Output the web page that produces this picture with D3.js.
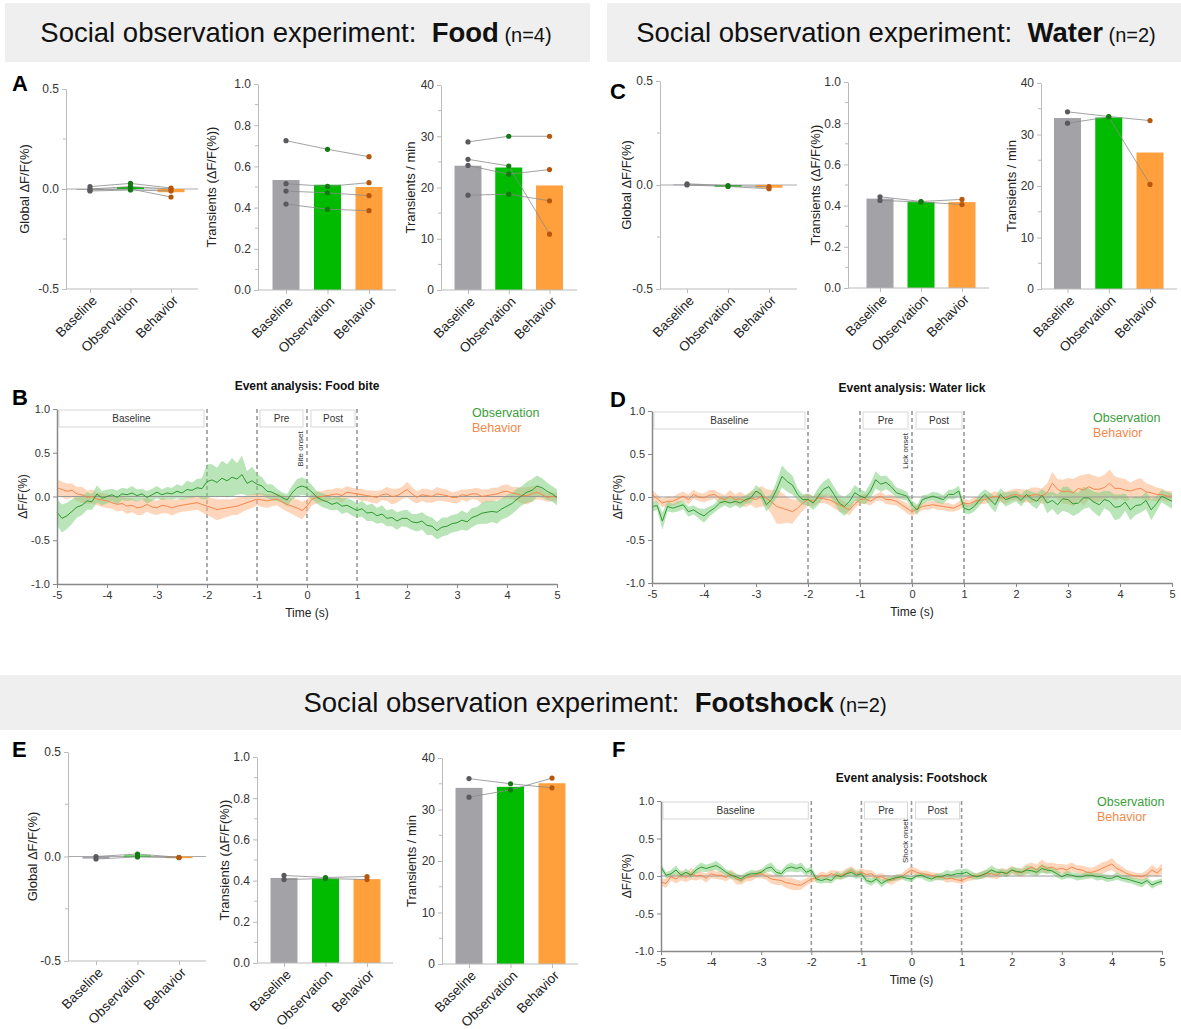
<!DOCTYPE html>
<html>
<head>
<meta charset="utf-8">
<script src="https://cdn.jsdelivr.net/npm/d3@7"></script>
<style>
  body { margin: 0; background: #fff; }
  text { font-family: "Liberation Sans", Arial, sans-serif; }
</style>
</head>
<body>
<svg id="chart"></svg>
<script>
// ---- summary data (rows = animals, columns = groups) ----
const groups = ["Baseline", "Observation", "Behavior"];

const foodGlobalBars = [-0.005, 0.01, -0.016];
const foodGlobalSubj = [[0.012, 0.028, 0.005], [0.0, 0.012, 0.0], [-0.005, 0.0, -0.04], [-0.01, -0.005, -0.01]];
const foodAmpBars = [0.534, 0.511, 0.50];
const foodAmpSubj = [[0.725, 0.683, 0.647], [0.516, 0.503, 0.521], [0.48, 0.472, 0.458], [0.417, 0.392, 0.385]];
const foodRateBars = [24.25, 23.9, 20.4];
const foodRateSubj = [[28.9, 30.0, 30.0], [25.5, 24.2, 10.9], [24.3, 22.6, 23.5], [18.5, 18.7, 17.4]];

const waterGlobalBars = [0.003, -0.008, -0.013];
const waterGlobalSubj = [[0.006, -0.003, -0.008], [0.0, -0.007, -0.018]];
const waterAmpBars = [0.434, 0.417, 0.417];
const waterAmpSubj = [[0.443, 0.42, 0.43], [0.425, 0.418, 0.405]];
const waterRateBars = [33.2, 33.3, 26.5];
const waterRateSubj = [[34.4, 33.5, 32.7], [32.2, 33.4, 20.3]];

const shockGlobalBars = [-0.01, 0.005, -0.008];
const shockGlobalSubj = [[0.0, 0.012, -0.004], [-0.012, -0.002, -0.006]];
const shockAmpBars = [0.413, 0.41, 0.407];
const shockAmpSubj = [[0.425, 0.415, 0.42], [0.405, 0.41, 0.405]];
const shockRateBars = [34.2, 34.4, 35.1];
const shockRateSubj = [[36.0, 35.0, 34.2], [32.4, 33.8, 36.1]];

const globalTicks = [-0.5, 0, 0.5];
const ampTicks = [0, 0.2, 0.4, 0.6, 0.8, 1.0];
const rateTicks = [0, 10, 20, 30, 40];

// ---- event traces, -5 s .. 5 s every 0.1 s ----
const timeSec = d3.range(101).map(i => -5 + i / 10);
const timeTicks = [-5, -4, -3, -2, -1, 0, 1, 2, 3, 4, 5];
const traceTicks = [-1, -0.5, 0, 0.5, 1];

const biteObs = [-0.18,-0.25,-0.22,-0.17,-0.12,-0.10,-0.05,-0.06,0.03,-0.02,
  0.00,0.02,-0.01,0.03,0.02,0.04,0.01,0.03,-0.01,0.02,
  0.05,0.02,0.04,0.03,0.06,0.04,0.08,0.07,0.10,0.09,
  0.17,0.19,0.16,0.21,0.18,0.22,0.20,0.25,0.15,0.18,
  0.14,0.12,0.06,0.05,0.02,-0.01,-0.04,0.04,0.10,0.12,
  0.10,0.05,-0.01,-0.04,-0.06,-0.09,-0.07,-0.11,-0.10,-0.13,
  -0.16,-0.14,-0.19,-0.18,-0.22,-0.20,-0.25,-0.24,-0.28,-0.25,
  -0.25,-0.29,-0.30,-0.28,-0.33,-0.34,-0.39,-0.35,-0.34,-0.31,
  -0.30,-0.27,-0.29,-0.24,-0.22,-0.19,-0.18,-0.17,-0.18,-0.14,
  -0.11,-0.08,-0.03,0.01,0.05,0.07,0.12,0.10,0.06,0.03,-0.01];
const biteObsSem = [0.15,0.16,0.15,0.14,0.12,0.11,0.10,0.09,0.10,0.08,
  0.08,0.07,0.08,0.07,0.07,0.08,0.07,0.06,0.07,0.07,
  0.07,0.06,0.07,0.07,0.08,0.08,0.10,0.09,0.10,0.12,
  0.20,0.18,0.17,0.20,0.19,0.22,0.18,0.22,0.14,0.16,
  0.12,0.10,0.08,0.09,0.07,0.06,0.07,0.08,0.10,0.10,
  0.09,0.08,0.07,0.08,0.08,0.07,0.08,0.09,0.08,0.09,
  0.08,0.09,0.09,0.10,0.09,0.10,0.09,0.10,0.10,0.09,
  0.10,0.09,0.10,0.10,0.11,0.10,0.10,0.11,0.10,0.10,
  0.10,0.11,0.10,0.11,0.10,0.12,0.13,0.12,0.13,0.12,
  0.13,0.12,0.12,0.11,0.12,0.13,0.12,0.11,0.10,0.09,0.09];
const biteBeh = [0.10,0.08,0.06,0.07,0.03,0.02,-0.01,0.00,-0.03,-0.04,
  -0.05,-0.07,-0.09,-0.08,-0.11,-0.10,-0.13,-0.12,-0.09,-0.12,
  -0.13,-0.10,-0.11,-0.13,-0.11,-0.10,-0.09,-0.08,-0.07,-0.09,
  -0.11,-0.13,-0.15,-0.14,-0.13,-0.12,-0.11,-0.09,-0.07,-0.05,
  -0.03,-0.04,-0.05,-0.04,-0.03,-0.06,-0.09,-0.11,-0.13,-0.16,
  -0.11,-0.03,-0.01,0.00,0.01,0.02,0.03,0.01,0.05,0.04,
  0.03,0.02,0.01,0.00,-0.01,0.02,0.03,0.00,0.01,0.04,
  0.08,0.03,-0.01,0.02,0.01,0.00,0.03,0.02,0.01,-0.01,
  -0.01,0.02,0.01,0.03,0.03,0.00,0.01,0.02,0.03,0.05,
  0.06,0.04,0.03,0.01,0.01,0.03,0.05,0.02,-0.01,0.00,-0.01];
const biteBehSem = [0.10,0.09,0.09,0.08,0.08,0.09,0.08,0.08,0.07,0.08,
  0.08,0.07,0.08,0.08,0.09,0.08,0.08,0.09,0.08,0.08,
  0.08,0.09,0.08,0.09,0.08,0.07,0.08,0.08,0.08,0.09,
  0.10,0.11,0.12,0.11,0.10,0.09,0.10,0.09,0.08,0.08,
  0.07,0.08,0.08,0.07,0.07,0.08,0.08,0.09,0.10,0.10,
  0.08,0.07,0.07,0.06,0.07,0.06,0.07,0.08,0.07,0.06,
  0.06,0.07,0.06,0.07,0.07,0.06,0.08,0.09,0.08,0.07,
  0.09,0.08,0.07,0.07,0.08,0.07,0.08,0.07,0.07,0.06,
  0.07,0.06,0.07,0.06,0.07,0.08,0.07,0.08,0.07,0.08,
  0.08,0.07,0.08,0.09,0.10,0.09,0.08,0.06,0.05,0.05,0.05];

const lickObs = [-0.11,-0.10,-0.28,-0.11,-0.13,-0.11,-0.09,-0.17,-0.15,-0.19,
  -0.22,-0.17,-0.13,-0.07,-0.05,-0.07,-0.05,-0.07,-0.03,-0.01,
  0.07,0.03,-0.09,-0.03,0.09,0.24,0.18,0.14,0.03,-0.03,
  -0.03,-0.07,0.01,0.09,0.12,0.03,-0.07,-0.11,-0.05,0.05,
  0.01,-0.01,0.07,0.20,0.15,0.17,0.12,0.05,0.03,0.01,
  -0.09,-0.15,-0.03,-0.01,0.01,-0.01,-0.03,0.03,0.03,0.07,
  -0.13,-0.15,-0.11,-0.03,0.03,-0.03,-0.09,0.03,-0.03,-0.01,
  0.01,-0.04,0.03,-0.02,-0.05,0.02,-0.07,-0.04,-0.09,-0.02,
  -0.03,-0.08,-0.07,-0.01,-0.01,-0.06,-0.09,-0.03,-0.05,-0.12,
  -0.11,-0.06,-0.15,-0.10,-0.09,-0.04,-0.15,-0.08,0.01,-0.02,-0.05];
const lickObsSem = [0.06,0.05,0.10,0.06,0.05,0.06,0.05,0.06,0.05,0.06,
  0.08,0.06,0.05,0.06,0.05,0.06,0.05,0.06,0.05,0.06,
  0.07,0.06,0.08,0.07,0.10,0.13,0.12,0.11,0.07,0.06,
  0.07,0.08,0.10,0.09,0.10,0.09,0.10,0.11,0.10,0.09,
  0.08,0.07,0.09,0.10,0.09,0.08,0.07,0.06,0.06,0.05,
  0.05,0.06,0.05,0.04,0.05,0.06,0.05,0.05,0.06,0.06,
  0.06,0.05,0.06,0.07,0.06,0.08,0.09,0.07,0.08,0.07,
  0.06,0.07,0.06,0.08,0.09,0.07,0.12,0.10,0.12,0.14,
  0.15,0.14,0.12,0.13,0.11,0.12,0.14,0.10,0.12,0.15,
  0.14,0.10,0.12,0.11,0.09,0.10,0.12,0.09,0.07,0.08,0.09];
const lickBeh = [0.03,-0.02,-0.07,-0.05,-0.05,-0.02,0.01,-0.03,0.03,0.00,
  -0.01,0.02,0.03,-0.01,-0.03,0.01,-0.03,-0.02,-0.05,-0.01,
  -0.03,0.01,-0.01,-0.06,-0.11,-0.13,-0.15,-0.17,-0.13,-0.07,
  -0.03,-0.05,-0.01,-0.02,-0.03,-0.06,-0.09,-0.12,-0.15,-0.08,
  -0.03,-0.02,-0.05,-0.01,0.01,-0.03,-0.03,-0.05,-0.09,-0.13,
  -0.17,-0.14,-0.11,-0.10,-0.09,-0.10,-0.11,-0.12,-0.13,-0.10,
  -0.07,-0.08,-0.05,-0.04,-0.03,-0.01,0.01,-0.01,-0.01,0.02,
  0.03,0.01,0.01,0.02,0.03,0.01,0.05,0.16,0.09,0.06,
  0.07,0.05,0.10,0.08,0.12,0.09,0.09,0.11,0.16,0.10,
  0.10,0.08,0.07,0.09,0.10,0.06,0.05,0.03,0.03,0.01,0.01];
const lickBehSem = [0.06,0.05,0.05,0.06,0.05,0.06,0.05,0.06,0.05,0.05,
  0.05,0.06,0.05,0.06,0.05,0.07,0.06,0.08,0.07,0.08,
  0.10,0.12,0.10,0.14,0.20,0.18,0.15,0.14,0.10,0.09,
  0.07,0.06,0.06,0.05,0.06,0.07,0.08,0.07,0.06,0.05,
  0.05,0.06,0.05,0.04,0.05,0.05,0.06,0.05,0.05,0.06,
  0.05,0.05,0.04,0.05,0.04,0.05,0.04,0.05,0.04,0.05,
  0.05,0.04,0.05,0.04,0.05,0.05,0.06,0.05,0.07,0.06,
  0.07,0.08,0.07,0.09,0.08,0.09,0.11,0.13,0.12,0.14,
  0.15,0.16,0.14,0.18,0.15,0.16,0.14,0.15,0.16,0.14,
  0.12,0.13,0.10,0.11,0.12,0.10,0.09,0.08,0.07,0.06,0.06];

const shockObs = [0.12,0.01,0.03,0.08,0.01,0.05,0.01,0.08,0.12,0.10,
  0.12,0.14,0.10,0.05,0.01,-0.01,-0.04,0.01,0.03,0.03,
  0.05,0.10,0.12,0.05,0.03,0.10,0.12,0.10,0.12,0.05,
  0.08,-0.04,-0.06,-0.04,-0.06,0.01,-0.01,0.03,0.05,0.01,
  0.03,-0.06,-0.08,-0.04,-0.10,-0.06,-0.04,-0.02,-0.01,-0.03,
  -0.04,0.00,0.01,-0.02,-0.04,-0.01,-0.01,0.02,0.01,0.03,
  0.03,0.05,0.01,-0.01,0.01,0.04,0.08,0.05,0.05,0.03,
  0.08,0.06,0.05,0.08,0.07,0.05,0.10,0.08,0.07,0.03,
  -0.01,0.02,0.01,-0.01,-0.01,0.01,0.01,-0.01,-0.01,-0.03,
  -0.03,0.00,-0.03,-0.04,-0.06,-0.08,-0.10,-0.06,-0.12,-0.09,-0.07];
const shockObsSem = [0.05,0.04,0.05,0.06,0.04,0.05,0.04,0.05,0.06,0.05,
  0.05,0.06,0.05,0.04,0.05,0.04,0.05,0.04,0.05,0.04,
  0.04,0.05,0.06,0.05,0.04,0.05,0.06,0.05,0.06,0.05,
  0.04,0.05,0.04,0.05,0.04,0.05,0.04,0.05,0.06,0.05,
  0.05,0.04,0.05,0.04,0.05,0.04,0.03,0.04,0.03,0.04,
  0.04,0.03,0.04,0.05,0.04,0.04,0.05,0.06,0.05,0.06,
  0.06,0.05,0.05,0.04,0.05,0.05,0.06,0.05,0.04,0.05,
  0.04,0.05,0.04,0.05,0.06,0.05,0.06,0.05,0.04,0.05,
  0.04,0.05,0.04,0.05,0.04,0.05,0.04,0.05,0.04,0.05,
  0.04,0.05,0.04,0.05,0.04,0.05,0.05,0.04,0.05,0.04,0.04];
const shockBeh = [-0.08,-0.10,-0.01,-0.04,0.01,-0.02,0.03,0.00,0.01,-0.03,
  0.03,0.01,0.01,-0.02,0.03,-0.04,-0.06,-0.02,-0.01,0.02,
  0.03,0.00,-0.04,-0.05,-0.06,-0.09,-0.10,-0.12,-0.12,-0.08,
  -0.04,-0.03,0.01,0.00,0.03,0.01,0.01,0.04,0.08,0.03,
  0.05,0.02,0.03,-0.02,-0.01,-0.04,-0.06,-0.03,-0.01,0.04,
  0.08,0.05,0.03,0.02,0.01,-0.01,-0.01,-0.04,-0.03,-0.05,
  -0.06,-0.03,-0.01,0.00,0.01,0.03,0.03,0.01,0.05,0.04,
  0.08,0.05,0.05,0.09,0.12,0.08,0.14,0.10,0.12,0.09,
  0.10,0.08,0.12,0.09,0.08,0.05,0.05,0.07,0.10,0.13,
  0.16,0.10,0.07,0.03,0.01,0.00,-0.01,0.02,0.08,0.04,0.10];
const shockBehSem = [0.05,0.06,0.05,0.06,0.07,0.06,0.08,0.06,0.05,0.06,
  0.06,0.05,0.06,0.05,0.06,0.07,0.06,0.05,0.06,0.05,
  0.06,0.05,0.06,0.07,0.06,0.07,0.08,0.07,0.06,0.05,
  0.05,0.04,0.05,0.04,0.05,0.06,0.05,0.06,0.05,0.05,
  0.05,0.06,0.05,0.04,0.05,0.05,0.06,0.05,0.04,0.05,
  0.05,0.05,0.04,0.05,0.04,0.05,0.04,0.05,0.05,0.04,
  0.05,0.04,0.05,0.04,0.05,0.05,0.06,0.05,0.06,0.05,
  0.06,0.05,0.06,0.07,0.06,0.07,0.08,0.07,0.06,0.07,
  0.06,0.07,0.06,0.05,0.06,0.07,0.06,0.07,0.08,0.07,
  0.08,0.07,0.06,0.05,0.05,0.04,0.05,0.06,0.07,0.06,0.07];

const barColors = ["#a3a2a7", "#00bb00", "#ffa03c"];
const dotColors = ["#5a5a5e", "#137a13", "#b8570c"];

const svg = d3.select("#chart").attr("width", 1181).attr("height", 1029);

// ---- grey title strips ----
function header(x, y, w, h, cx, name, n) {
  svg.append("rect").attr("x", x).attr("y", y).attr("width", w).attr("height", h).attr("fill", "#efefef");
  const t = svg.append("text").attr("x", cx).attr("y", y + h / 2 + 9)
    .attr("text-anchor", "middle").style("font-size", "27.5px").attr("fill", "#111");
  t.append("tspan").text("Social observation experiment:\u00a0\u00a0");
  t.append("tspan").attr("font-weight", "bold").text(name);
  t.append("tspan").style("font-size", "20px").text("\u00a0(n=" + n + ")");
}
header(5, 3, 585, 59, 296, "Food", 4);
header(607, 3, 574, 59, 896, "Water", 2);
header(0, 675, 1181, 55, 595, "Footshock", 2);

function letter(s, x, y) {
  svg.append("text").attr("x", x).attr("y", y).text(s)
    .style("font-size", "22px").attr("font-weight", "bold").attr("fill", "#000");
}
letter("A", 12, 91); letter("B", 12, 405);
letter("C", 610, 99); letter("D", 610, 407);
letter("E", 12, 757); letter("F", 612, 757);

// ---- bar + paired dots panel ----
function barPanel(p) {
  const g = svg.append("g");
  const y = d3.scaleLinear().domain([p.ticks[0], p.ticks[p.ticks.length - 1]]).range([p.yBot, p.yTop]);
  const x = d3.scalePoint().domain(groups).range([p.c0, p.c1]);
  const bw = 27;

  // minor ticks
  g.selectAll("line.minor").data(p.minor).join("line")
    .attr("x1", p.ax - 3).attr("x2", p.ax).attr("y1", d => y(d)).attr("y2", d => y(d))
    .attr("stroke", "#bbb");

  const yAx = g.append("g").attr("transform", `translate(${p.ax},0)`)
    .call(d3.axisLeft(y).tickValues(p.ticks).tickFormat(p.fmt).tickSize(4).tickSizeOuter(0));
  yAx.select(".domain").attr("stroke", "#bbb");
  yAx.selectAll(".tick line").attr("stroke", "#bbb");
  yAx.selectAll(".tick text").attr("fill", "#333").style("font-size", "12px")
    .style("font-family", "'Liberation Sans', Arial, sans-serif");

  if (p.zero) {
    g.append("line").attr("x1", p.ax).attr("x2", p.axEnd).attr("y1", y(0)).attr("y2", y(0))
      .attr("stroke", "#aaa");
  }

  g.selectAll("rect.bar").data(p.bars).join("rect")
    .attr("x", (d, i) => x(groups[i]) - bw / 2)
    .attr("y", d => Math.min(y(d), y(0)))
    .attr("width", bw)
    .attr("height", d => Math.max(1, Math.abs(y(d) - y(0))))
    .attr("fill", (d, i) => barColors[i]);

  const line = d3.line().x((d, i) => x(groups[i])).y(d => y(d));
  g.selectAll("path.subj").data(p.subj).join("path")
    .attr("d", line).attr("fill", "none").attr("stroke", "#8a8a8a").attr("stroke-width", 0.8);

  p.subj.forEach(row => {
    g.selectAll(null).data(row).join("circle")
      .attr("cx", (d, i) => x(groups[i])).attr("cy", d => y(d)).attr("r", 2.6)
      .attr("fill", (d, i) => dotColors[i]);
  });

  // x axis
  g.append("line").attr("x1", p.ax).attr("x2", p.axEnd).attr("y1", p.yBot).attr("y2", p.yBot)
    .attr("stroke", "#bbb");
  const xAx = g.append("g").attr("transform", `translate(0,${p.yBot})`)
    .call(d3.axisBottom(x).tickSize(4).tickSizeOuter(0));
  xAx.select(".domain").remove();
  xAx.selectAll(".tick line").attr("stroke", "#bbb");
  xAx.selectAll(".tick text").attr("x", 0).attr("y", 0).attr("dy", "0.35em")
    .attr("transform", "translate(4,9) rotate(-45)")
    .style("text-anchor", "end").style("font-size", "13.5px").attr("fill", "#222")
    .style("font-family", "'Liberation Sans', Arial, sans-serif");

  svg.append("text")
    .attr("transform", `translate(${p.labX},${(p.yTop + p.yBot) / 2}) rotate(-90)`)
    .attr("text-anchor", "middle").style("font-size", "13px").attr("fill", "#222")
    .text(p.label);
}

const f1 = d => d.toFixed(1);
const f0 = d => String(d);
const globalMinor = [-0.25, 0.25];
const ampMinor = [0.1, 0.3, 0.5, 0.7, 0.9];
const rateMinor = [5, 15, 25, 35];

// Food
barPanel({ ax: 66, axEnd: 198, c0: 90, c1: 171, yTop: 89, yBot: 289, ticks: globalTicks, minor: globalMinor,
  fmt: f1, zero: true, bars: foodGlobalBars, subj: foodGlobalSubj, label: "Global \u0394F/F(%)", labX: 29 });
barPanel({ ax: 258, axEnd: 396, c0: 286, c1: 369, yTop: 84, yBot: 290, ticks: ampTicks, minor: ampMinor,
  fmt: f1, bars: foodAmpBars, subj: foodAmpSubj, label: "Transients (\u0394F/F(%))", labX: 216 });
barPanel({ ax: 441, axEnd: 577, c0: 468, c1: 549.5, yTop: 85, yBot: 290, ticks: rateTicks, minor: rateMinor,
  fmt: f0, bars: foodRateBars, subj: foodRateSubj, label: "Transients / min", labX: 415 });
// Water
barPanel({ ax: 660, axEnd: 797, c0: 687, c1: 769, yTop: 81, yBot: 289, ticks: globalTicks, minor: globalMinor,
  fmt: f1, zero: true, bars: waterGlobalBars, subj: waterGlobalSubj, label: "Global \u0394F/F(%)", labX: 631 });
barPanel({ ax: 848, axEnd: 989, c0: 880, c1: 962, yTop: 82, yBot: 288, ticks: ampTicks, minor: ampMinor,
  fmt: f1, bars: waterAmpBars, subj: waterAmpSubj, label: "Transients (\u0394F/F(%))", labX: 820 });
barPanel({ ax: 1041, axEnd: 1177, c0: 1067.5, c1: 1150, yTop: 83, yBot: 289, ticks: rateTicks, minor: rateMinor,
  fmt: f0, bars: waterRateBars, subj: waterRateSubj, label: "Transients / min", labX: 1016 });
// Footshock
barPanel({ ax: 68, axEnd: 206, c0: 96, c1: 179, yTop: 752, yBot: 961, ticks: globalTicks, minor: globalMinor,
  fmt: f1, zero: true, bars: shockGlobalBars, subj: shockGlobalSubj, label: "Global \u0394F/F(%)", labX: 37 });
barPanel({ ax: 257, axEnd: 393, c0: 284, c1: 367, yTop: 757, yBot: 963, ticks: ampTicks, minor: ampMinor,
  fmt: f1, bars: shockAmpBars, subj: shockAmpSubj, label: "Transients (\u0394F/F(%))", labX: 229 });
barPanel({ ax: 442, axEnd: 578, c0: 469, c1: 552, yTop: 758, yBot: 964, ticks: rateTicks, minor: rateMinor,
  fmt: f0, bars: shockRateBars, subj: shockRateSubj, label: "Transients / min", labX: 416 });

// ---- event-locked traces ----
function tracePanel(p) {
  const g = svg.append("g");
  const x = d3.scaleLinear().domain([-5, 5]).range([p.x0, p.x1]);
  const y = d3.scaleLinear().domain([-1, 1]).range([p.yBot, p.yTop]);

  // epoch boxes
  const boxes = [
    { a: -5, b: -2, t: "Baseline", pa: 2, pb: -3 },
    { a: -1, b: 0, t: "Pre", pa: 3, pb: -4 },
    { a: 0, b: 1, t: "Post", pa: 4, pb: -2 }
  ];
  boxes.forEach(b => {
    g.append("rect").attr("x", x(b.a) + b.pa).attr("y", y(1) + 1)
      .attr("width", x(b.b) + b.pb - x(b.a) - b.pa).attr("height", 17)
      .attr("fill", "#fff").attr("stroke", "#d8d8d8");
    g.append("text").attr("x", (x(b.a) + b.pa + x(b.b) + b.pb) / 2).attr("y", y(1) + 13)
      .attr("text-anchor", "middle").style("font-size", "10px").attr("fill", "#333").text(b.t);
  });

  g.selectAll("line.ev").data([-2, -1, 0, 1]).join("line")
    .attr("x1", d => x(d)).attr("x2", d => x(d)).attr("y1", y(1)).attr("y2", y(-1))
    .attr("stroke", "#999").attr("stroke-width", 1.6).attr("stroke-dasharray", "4,3");

  const area = (m, s) => d3.area()
    .x((d, i) => x(timeSec[i])).y0((d, i) => y(m[i] - s[i])).y1((d, i) => y(m[i] + s[i]))(m);
  const line = m => d3.line().x((d, i) => x(timeSec[i])).y(d => y(d))(m);

  g.append("path").attr("d", area(p.beh, p.behSem)).attr("fill", "#fdb585").attr("opacity", 0.55);
  g.append("path").attr("d", area(p.obs, p.obsSem)).attr("fill", "#7fd07f").attr("opacity", 0.55);
  g.append("line").attr("x1", x(-5)).attr("x2", x(5)).attr("y1", y(0)).attr("y2", y(0))
    .attr("stroke", "#999").attr("stroke-width", 1.2);
  g.append("path").attr("d", line(p.beh)).attr("fill", "none").attr("stroke", "#f4874a").attr("stroke-width", 1);
  g.append("path").attr("d", line(p.obs)).attr("fill", "none").attr("stroke", "#2f9a2f").attr("stroke-width", 1);

  // axes
  const yAx = g.append("g").attr("transform", `translate(${p.x0},0)`)
    .call(d3.axisLeft(y).tickValues(traceTicks).tickFormat(d => d.toFixed(1)).tickSize(4).tickSizeOuter(0));
  yAx.select(".domain").attr("stroke", "#888").attr("stroke-width", 1.5);
  yAx.selectAll(".tick line").attr("stroke", "#888");
  yAx.selectAll(".tick text").attr("fill", "#333").style("font-size", "11px")
    .style("font-family", "'Liberation Sans', Arial, sans-serif");

  const xAx = g.append("g").attr("transform", `translate(0,${p.yBot})`)
    .call(d3.axisBottom(x).tickValues(timeTicks).tickFormat(d => String(d)).tickSize(4).tickSizeOuter(0));
  xAx.select(".domain").attr("stroke", "#888").attr("stroke-width", 1.5);
  xAx.selectAll(".tick line").attr("stroke", "#888");
  xAx.selectAll(".tick text").attr("fill", "#333").style("font-size", "11px")
    .style("font-family", "'Liberation Sans', Arial, sans-serif");

  g.append("text").attr("x", x(0)).attr("y", p.yBot + 33).attr("text-anchor", "middle")
    .style("font-size", "12px").attr("fill", "#222").text("Time (s)");
  g.append("text").attr("transform", `translate(${p.x0 - 30},${y(0)}) rotate(-90)`)
    .attr("text-anchor", "middle").style("font-size", "12px").attr("fill", "#222").text("\u0394F/F(%)");
  g.append("text").attr("x", x(0)).attr("y", p.yTop - 19).attr("text-anchor", "middle")
    .attr("font-weight", "bold").style("font-size", "12px").attr("fill", "#111").text(p.title);
  g.append("text").attr("transform", `translate(${x(0) - 4},${y(1) + 40}) rotate(-90)`)
    .attr("text-anchor", "middle").style("font-size", "8px").attr("fill", "#333").text(p.onset);

  g.append("text").attr("x", p.legX).attr("y", p.legY).style("font-size", "12.5px")
    .attr("fill", "#3a9e3a").text("Observation");
  g.append("text").attr("x", p.legX).attr("y", p.legY + 15).style("font-size", "12.5px")
    .attr("fill", "#f2884a").text("Behavior");
}

tracePanel({ x0: 57, x1: 557, yTop: 409, yBot: 584, obs: biteObs, obsSem: biteObsSem, beh: biteBeh, behSem: biteBehSem,
  title: "Event analysis: Food bite", onset: "Bite onset", legX: 472, legY: 417 });
tracePanel({ x0: 652, x1: 1172, yTop: 411, yBot: 583, obs: lickObs, obsSem: lickObsSem, beh: lickBeh, behSem: lickBehSem,
  title: "Event analysis: Water lick", onset: "Lick onset", legX: 1093, legY: 422 });
tracePanel({ x0: 661, x1: 1162, yTop: 801, yBot: 951, obs: shockObs, obsSem: shockObsSem, beh: shockBeh, behSem: shockBehSem,
  title: "Event analysis: Footshock", onset: "Shock onset", legX: 1097, legY: 806 });
</script>
</body>
</html>
